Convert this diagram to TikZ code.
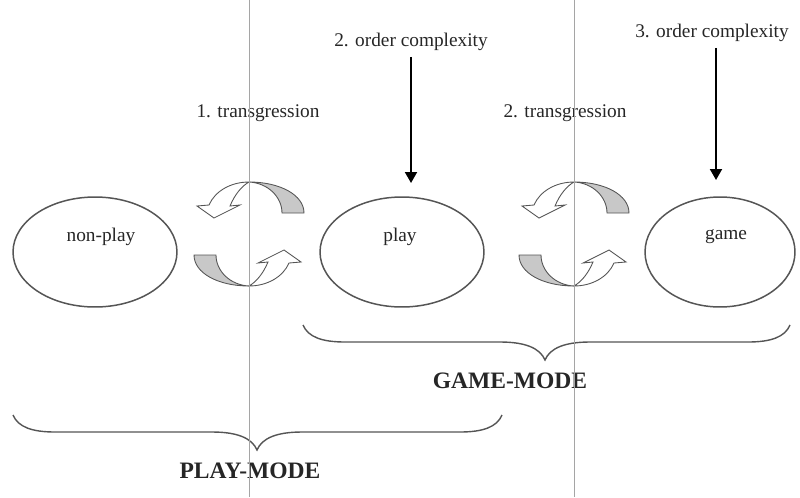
\documentclass[tikz,border=0pt]{standalone}
\usepackage{fontspec}
\setmainfont{Liberation Serif}
\usetikzlibrary{arrows.meta, positioning, shapes.geometric}

\definecolor{ribbon}{RGB}{200,200,200}
\definecolor{guide}{RGB}{165,165,165}
\definecolor{edge}{RGB}{85,85,85}

\tikzset{
  turnarrow/.pic={
    % back of the ribbon
    \filldraw[fill=ribbon, draw=edge, line width=0.5pt]
      (0,-52) .. controls (31,-52) and (55,-39) .. (55,-21)
      -- (33,-21) .. controls (33,-37) and (19,-51) .. (0,-52) -- cycle;
    % front of the ribbon and its head
    \filldraw[fill=white, draw=edge, line width=0.5pt]
      (0,-52) .. controls (-18,-52) and (-34,-43) .. (-40,-29)
      -- (-52,-28) -- (-35,-16) -- (-9,-29) -- (-19,-28)
      .. controls (-14,-40) and (-7,-48) .. (0,-52) -- cycle;
  }
}

\begin{document}
\begin{tikzpicture}[
                x=0.02cm, y=-0.02cm,
                every node/.style={font=\fontsize{11}{13}\selectfont, text=black!85},
                stage/.style={draw=edge, ellipse, line width=0.85pt, minimum width=3.28cm, minimum height=2.2cm},
                modename/.style={font=\fontsize{13.4}{16}\selectfont\bfseries},
                guideline/.style={draw=guide, line width=0.4pt},
                modebrace/.style={draw=edge, line width=0.8pt},
                arrow/.style={-{Triangle[length=0.22cm, width=0.24cm]}, line width=1.1pt}]
            \useasboundingbox (0,0) rectangle (800,497);

            % Etats
            \node[stage] (nonplay) at (95,252) {};
            \node[stage] (play) at (402,252) {};
            \node[stage, minimum width=3cm] (game) at (720,252) {};
            \node (nonplaytxt) at (101,237) {non-play};
            \node (playtxt) at (400,237) {play};
            \node (gametxt) at (726,237) {game};

            % Titres
            \node (oc2) at (411,42) {2. order complexity};
            \node (oc3) at (712,33) {3. order complexity};
            \node (tr1) at (258,113) {1. transgression};
            \node (tr2) at (565,113) {2. transgression};

            % Flèches de complexité
            \coordinate (playtop) at (411,183);
            \coordinate (gametop) at (716,180);
            \draw[arrow] (oc2) -- (playtop);
            \draw[arrow] (oc3.south -| gametop) -- (gametop);

            % Transgressions
            \pic at (249,234) {turnarrow};
            \pic[rotate=180] at (249,234) {turnarrow};
            \pic at (574,234) {turnarrow};
            \pic[rotate=180] at (574,234) {turnarrow};

            % Accolades
            \draw[modebrace] (303,325) .. controls (308,337) and (322,342) .. (345,342) -- (500,342)
                .. controls (525,342) and (540,348) .. (545,360)
                .. controls (550,348) and (565,342) .. (590,342) -- (748,342)
                .. controls (771,342) and (785,337) .. (790,325);
            \draw[modebrace] (13,415) .. controls (18,427) and (32,432) .. (55,432) -- (212,432)
                .. controls (237,432) and (252,438) .. (257,450)
                .. controls (262,438) and (277,432) .. (302,432) -- (460,432)
                .. controls (483,432) and (497,427) .. (502,415);
            \node[modename] (gamemode) at (510,381) {GAME-MODE};
            \node[modename] (playmode) at (250,471) {PLAY-MODE};

            % Séparations
            \draw[guideline] (249,0) -- (249,497);
            \draw[guideline] (574,0) -- (574,497);

        \end{tikzpicture}
\end{document}
